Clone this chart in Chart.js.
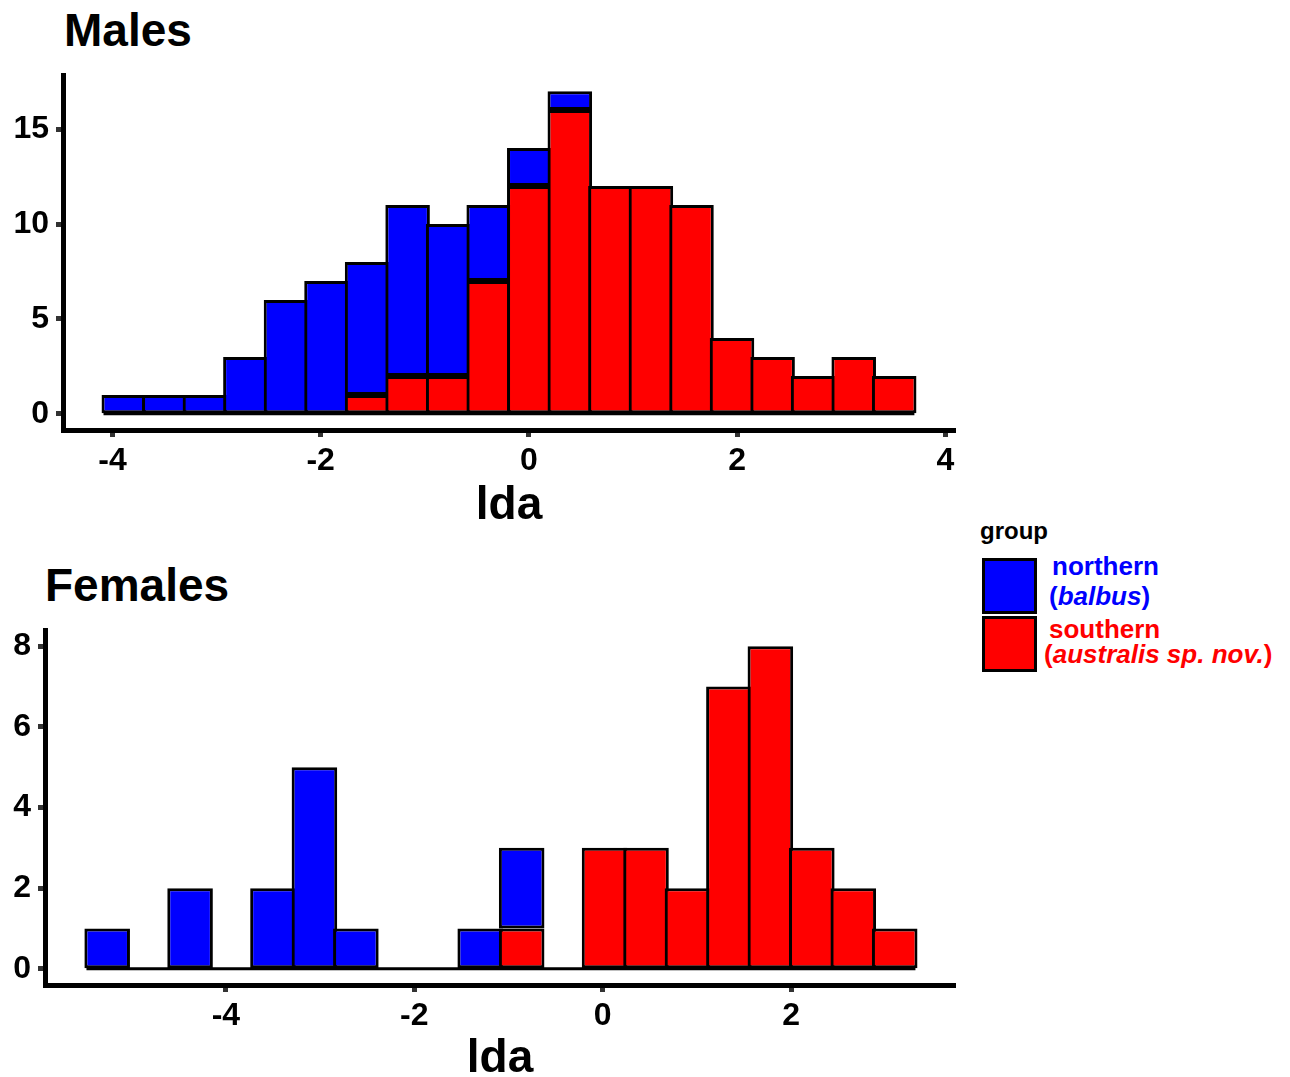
<!DOCTYPE html>
<html>
<head>
<meta charset="utf-8">
<script src="https://cdn.jsdelivr.net/npm/chart.js@4"></script>
<style>
  body { margin: 0; background: #fff; font-family: "Liberation Sans", Arial, sans-serif; overflow: hidden; }
  #wrap { position: relative; width: 1290px; height: 1077px; overflow: hidden; }
  canvas { position: absolute; }
  .ttl { position: absolute; font-weight: bold; font-size: 46px; line-height: 1; color: #000; }
  .leg { position: absolute; font-weight: bold; font-size: 26px; line-height: 1; white-space: nowrap; }
  .sw { position: absolute; width: 49px; height: 50px; border: 3px solid #000; }
</style>
</head>
<body>
<div id="wrap">
  <div class="ttl" style="left:64px; top:7px;">Males</div>
  <div class="ttl" style="left:45px; top:562px;">Females</div>
  <canvas id="males" style="left:0; top:0;" width="970" height="534"></canvas>
  <canvas id="females" style="left:0; top:540px;" width="970" height="547"></canvas>

  <div class="leg" style="left:980px; top:519px; color:#000; font-size:24px;">group</div>
  <div class="sw" style="left:982px; top:558px; background:#0000ff;"></div>
  <div class="sw" style="left:982px; top:616px; background:#ff0000;"></div>
  <div class="leg" style="left:1052px; top:553px; color:#0000ff;">northern</div>
  <div class="leg" style="left:1049px; top:583px; color:#0000ff;">(<i>balbus</i>)</div>
  <div class="leg" style="left:1049px; top:616px; color:#ff0000;">southern</div>
  <div class="leg" style="left:1044px; top:641px; color:#ff0000;">(<i>australis sp. nov.</i>)</div>
</div>
<script>
// males histogram (bin centres, counts per group)
const maleBins = [-3.891, -3.502, -3.112, -2.723, -2.333, -1.944, -1.554, -1.165, -0.775, -0.386,
                  0.004, 0.393, 0.783, 1.172, 1.562, 1.951, 2.341, 2.730, 3.120, 3.509];
const maleNorthern = [1, 1, 1, 3, 6, 7, 7, 9, 8, 4, 2, 1, 0, 0, 0, 0, 0, 0, 0, 0];
const maleSouthern = [0, 0, 0, 0, 0, 0, 1, 2, 2, 7, 12, 16, 12, 12, 11, 4, 3, 2, 3, 2];
const maleEdges = [-4.086, 3.703];
const maleXTicks = [-4, -2, 0, 2, 4];
const maleYTicks = [0, 5, 10, 15];

// females histogram
const femaleBins = [-5.26, -4.82, -4.38, -3.94, -3.50, -3.06, -2.62, -2.18, -1.74, -1.30,
                    -0.86, -0.42, 0.02, 0.46, 0.90, 1.34, 1.78, 2.22, 2.66, 3.10];
const femaleNorthern = [1, 0, 2, 0, 2, 5, 1, 0, 0, 1, 2, 0, 0, 0, 0, 0, 0, 0, 0, 0];
const femaleSouthern = [0, 0, 0, 0, 0, 0, 0, 0, 0, 0, 1, 0, 3, 3, 2, 7, 8, 3, 2, 1];
const femaleEdges = [-5.48, 3.32];
const femaleXTicks = [-4, -2, 0, 2];
const femaleYTicks = [0, 2, 4, 6, 8];

const FONT = '"Liberation Sans", Arial, sans-serif';

function makeHist(id, bins, north, south, edges, xTicks, yTicks, xr, yr, lay) {
  const pts = (vals) => bins.map((b, i) => ({ x: b, y: vals[i] }));
  const barStyle = {
    borderColor: '#000',
    borderWidth: 3,
    borderSkipped: false,
    barPercentage: 1.1,
    categoryPercentage: 1,
    grouped: false
  };
  return new Chart(document.getElementById(id), {
    type: 'bar',
    data: {
      datasets: [
        Object.assign({ label: 'southern', data: pts(south), backgroundColor: '#ff0000' }, barStyle),
        Object.assign({ label: 'northern', data: pts(north), backgroundColor: '#0000ff' }, barStyle),
        {
          type: 'line',
          label: 'base',
          data: edges.map(e => ({ x: e, y: 0 })),
          borderColor: '#000',
          borderWidth: 3,
          pointRadius: 0,
          order: 5
        }
      ]
    },
    options: {
      responsive: false,
      animation: false,
      layout: { padding: { top: lay.top, right: lay.right, left: 0, bottom: 0 } },
      plugins: { legend: { display: false }, tooltip: { enabled: false } },
      scales: {
        x: {
          type: 'linear',
          stacked: true,
          offset: false,
          min: xr[0], max: xr[1],
          afterBuildTicks: s => { s.ticks = xTicks.map(v => ({ value: v })); },
          afterFit: s => { s.height = lay.xh; },
          grid: { offset: false, drawOnChartArea: false, drawTicks: true, tickLength: 7, tickWidth: 5, tickColor: '#333' },
          border: { display: true, color: '#000', width: 5 },
          ticks: { color: '#000', padding: 5, font: { family: FONT, size: 32, weight: 'bold' } },
          title: { display: true, text: 'lda', color: '#000', padding: { top: 0, bottom: 0 },
                   font: { family: FONT, size: 46, weight: 'bold' } }
        },
        y: {
          type: 'linear',
          stacked: true,
          min: yr[0], max: yr[1],
          afterBuildTicks: s => { s.ticks = yTicks.map(v => ({ value: v })); },
          afterFit: s => { s.width = lay.yw; },
          grid: { drawOnChartArea: false, drawTicks: true, tickLength: 7, tickWidth: 5, tickColor: '#333' },
          border: { display: true, color: '#000', width: 5 },
          ticks: { color: '#000', padding: 7, font: { family: FONT, size: 32, weight: 'bold' } }
        }
      }
    }
  });
}

makeHist('males', maleBins, maleNorthern, maleSouthern, maleEdges, maleXTicks, maleYTicks,
  [-4.475, 4.093], [-0.85, 17.85], { top: 75, right: 15, xh: 104, yw: 63 });
makeHist('females', femaleBins, femaleNorthern, femaleSouthern, femaleEdges, femaleXTicks, femaleYTicks,
  [-5.92, 3.74], [-0.4, 8.4], { top: 90, right: 15, xh: 102, yw: 45 });
</script>
</body>
</html>
